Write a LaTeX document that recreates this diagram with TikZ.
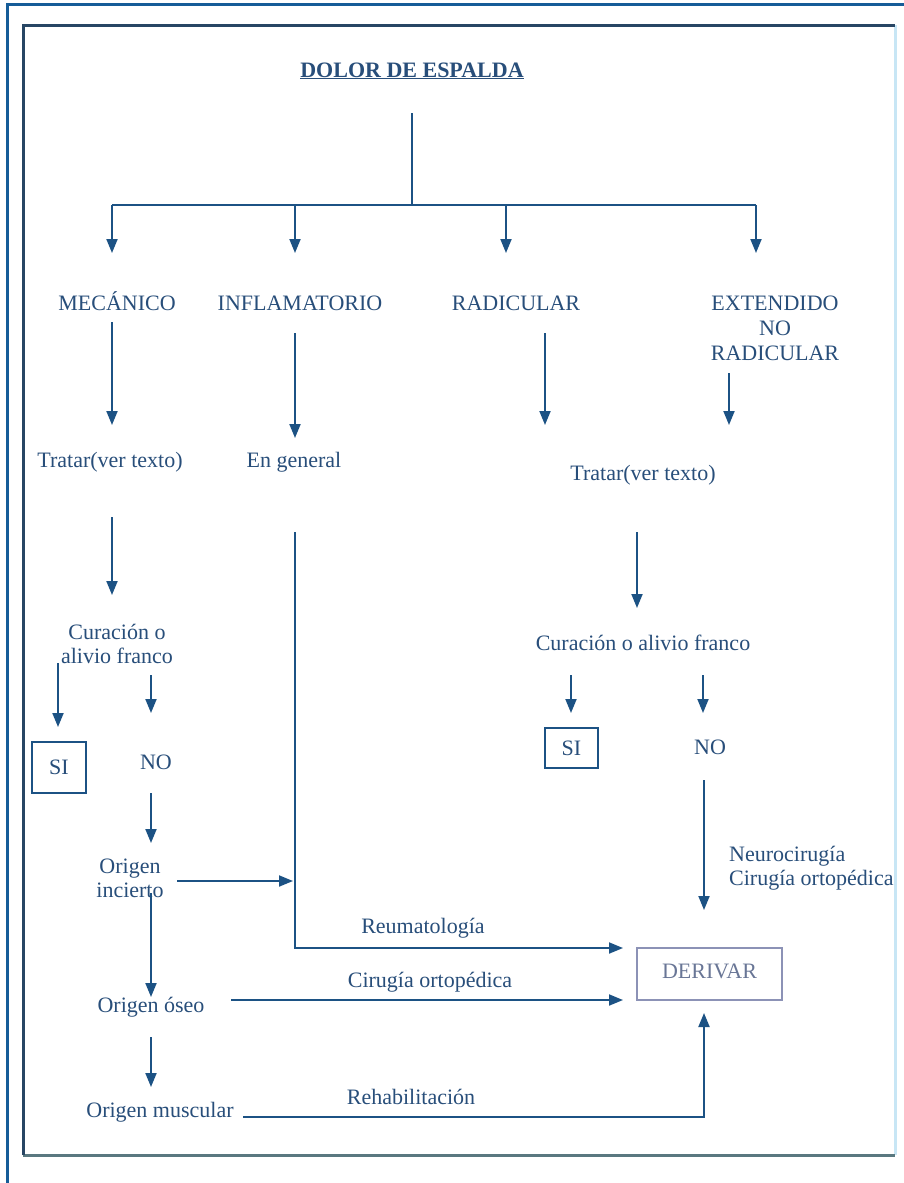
\documentclass[tikz,border=0pt]{standalone}
\usepackage{fontspec}
\setmainfont{Liberation Serif}
\usetikzlibrary{arrows.meta}
\definecolor{txtc}{RGB}{40,78,122}
\definecolor{linec}{RGB}{28,82,132}
\definecolor{outerc}{RGB}{22,92,152}
\definecolor{innertop}{RGB}{40,70,100}
\definecolor{innerright}{RGB}{200,230,245}
\definecolor{innerbot}{RGB}{90,120,128}
\definecolor{derc}{RGB}{140,146,182}
\definecolor{dertxt}{RGB}{105,118,150}
\begin{document}
\begin{tikzpicture}[x=1pt,y=-1pt,
  lbl/.style={font=\fontsize{22}{24}\selectfont, text=txtc, inner sep=0pt, anchor=base, align=center},
  conn/.style={draw=linec, line width=1.9pt},
  arr/.style={conn, -{Triangle[width=11pt,length=14pt]}},
  sibox/.style={draw=linec, line width=1.5pt, inner sep=0pt, font=\fontsize{22}{24}\selectfont, text=txtc},
  derbox/.style={draw=derc, line width=1.5pt, inner sep=0pt, font=\fontsize{22}{24}\selectfont, text=dertxt}]
\useasboundingbox (0,0) rectangle (904,1183);
\fill[white] (0,0) rectangle (904,1183);
% frames
\draw[outerc, line width=3pt] (7.5,1183) -- (7.5,4.5) -- (904,4.5);
\draw[innerright, line width=3pt] (895,25) -- (895,1155);
\draw[innerbot, line width=3pt] (23,1155) -- (895,1155);
\draw[innertop, line width=3pt] (23,1155) -- (23,25) -- (895,25);

% nodes
\node[lbl, font=\fontsize{22}{24}\selectfont\bfseries] (title) at (412,77) {\underline{DOLOR DE ESPALDA}};
\node[lbl] (mec) at (117,310) {MECÁNICO};
\node[lbl] (infl) at (300,310) {INFLAMATORIO};
\node[lbl] (rad) at (516,310) {RADICULAR};
\node[lbl, font=\fontsize{22}{25}\selectfont] (ext) at (775,360) {EXTENDIDO\\NO\\RADICULAR};
\node[lbl] (trat1) at (110,467) {Tratar(ver texto)};
\node[lbl] (engen) at (294,467) {En general};
\node[lbl] (trat2) at (643,480) {Tratar(ver texto)};
\node[lbl] (cur1) at (117,663) {Curación o\\alivio franco};
\node[lbl] (cur2) at (643,650) {Curación o alivio franco};
\node[sibox, minimum width=54pt, minimum height=51pt] (si1) at (59,767.5) {SI};
\node[lbl] (no1) at (156,769) {NO};
\node[sibox, minimum width=53pt, minimum height=40pt] (si2) at (571.5,748) {SI};
\node[lbl] (no2) at (710,754) {NO};
\node[lbl] (oinc) at (130,897) {Origen\\incierto};
\node[lbl, anchor=base west, align=left] (neuro) at (729,885) {Neurocirugía\\Cirugía ortopédica};
\node[derbox, minimum width=145pt, minimum height=52pt, text depth=6pt] (der) at (709.5,974) {DERIVAR};
\node[lbl] (reuma) at (423,933) {Reumatología};
\node[lbl] (cirug) at (430,987) {Cirugía ortopédica};
\node[lbl] (oseo) at (151,1012) {Origen óseo};
\node[lbl] (omus) at (160,1117) {Origen muscular};
\node[lbl] (rehab) at (411,1104) {Rehabilitación};

% coordinates
\coordinate (t0) at (412,113);
\coordinate (tj) at (412,205);
\coordinate (b1) at (112,205);
\coordinate (b2) at (295,205);
\coordinate (b3) at (506,205);
\coordinate (b4) at (756,205);
\coordinate (mecs) at (112,322);
\coordinate (mece) at (112,425);
\coordinate (infs) at (295,333);
\coordinate (infe) at (295,438);
\coordinate (rads) at (545,333);
\coordinate (rade) at (545,425);
\coordinate (exts) at (729,373);
\coordinate (exte) at (729,425);
\coordinate (t1s) at (112,517);
\coordinate (t1e) at (112,595);
\coordinate (egs) at (295,532);
\coordinate (egc) at (295,948);
\coordinate (dertop) at (623,948);
\coordinate (t2s) at (637,532);
\coordinate (t2e) at (637,608);
\coordinate (c1a) at (58,663);
\coordinate (c1ae) at (58,727);
\coordinate (c1b) at (151,675);
\coordinate (c1be) at (151,713);
\coordinate (c2a) at (571,675);
\coordinate (c2ae) at (571,713);
\coordinate (c2b) at (703,675);
\coordinate (c2be) at (703,713);
\coordinate (n1s) at (151,793);
\coordinate (n1e) at (151,843);
\coordinate (ois) at (177,881);
\coordinate (oie) at (293,881);
\coordinate (oid) at (151,893);
\coordinate (oide) at (151,997);
\coordinate (oss) at (231,1000);
\coordinate (derbot) at (623,1000);
\coordinate (osd) at (151,1037);
\coordinate (osde) at (151,1087);
\coordinate (oms) at (243,1117);
\coordinate (omc) at (704,1117);
\coordinate (omde) at (704,1013);
\coordinate (n2s) at (704,780);
\coordinate (n2e) at (704,910);

% connectors
\draw[conn] (t0) -- (tj);
\draw[conn] (b1) -- (b4);
\draw[arr] (b1) -- (112,253);
\draw[arr] (b2) -- (295,253);
\draw[arr] (b3) -- (506,253);
\draw[arr] (b4) -- (756,253);
\draw[arr] (mecs) -- (mece);
\draw[arr] (infs) -- (infe);
\draw[arr] (rads) -- (rade);
\draw[arr] (exts) -- (exte);
\draw[arr] (t1s) -- (t1e);
\draw[arr] (egs) -- (egc) -- (dertop);
\draw[arr] (t2s) -- (t2e);
\draw[arr] (c1a) -- (c1ae);
\draw[arr] (c1b) -- (c1be);
\draw[arr] (c2a) -- (c2ae);
\draw[arr] (c2b) -- (c2be);
\draw[arr] (n1s) -- (n1e);
\draw[arr] (ois) -- (oie);
\draw[arr] (oid) -- (oide);
\draw[arr] (oss) -- (derbot);
\draw[arr] (osd) -- (osde);
\draw[arr] (oms) -- (omc) -- (omde);
\draw[arr] (n2s) -- (n2e);
\end{tikzpicture}
\end{document}
